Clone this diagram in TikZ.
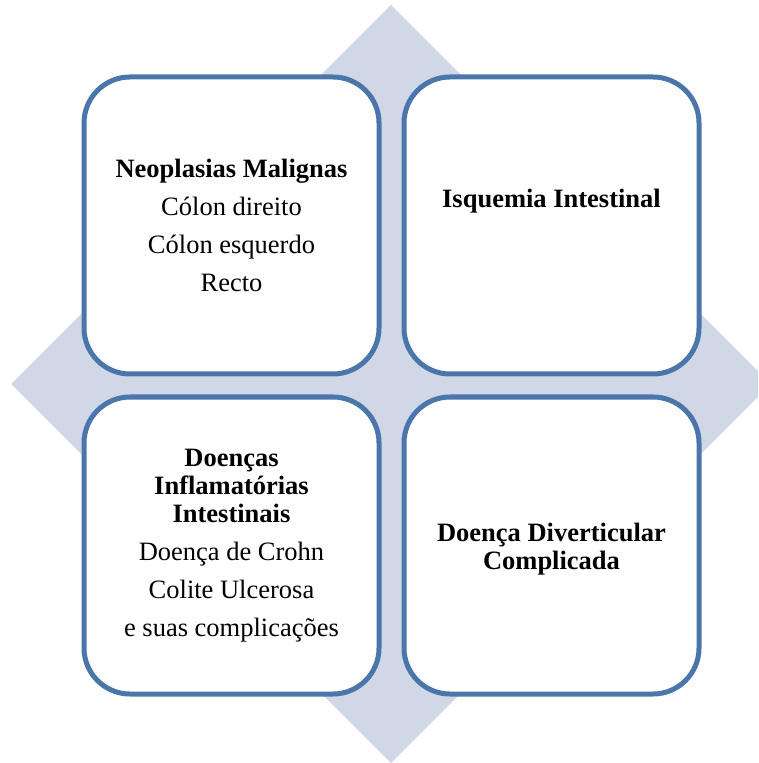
\documentclass[tikz,border=0pt]{standalone}
\usepackage{fontspec}
\setmainfont{Liberation Serif}
\usepackage{tikz}
\usetikzlibrary{positioning}

\definecolor{boxline}{RGB}{74,118,170}
\definecolor{diamondfill}{RGB}{208,216,232}

\begin{document}
\begin{tikzpicture}[
        x=0.5pt, y=-0.5pt,
        quad/.style={rectangle, draw=boxline, line width=2.5pt, rounded corners=23pt, fill=white,
          minimum width=147.5pt, minimum height=148.5pt, align=center,
          font=\fontsize{13.25}{14}\selectfont},
        caption/.style={align=center, font=\fontsize{13.25}{14}\selectfont\bfseries}
      ]

      \useasboundingbox (0,0) rectangle (758,763);
      \clip (0,0) rectangle (758,763);

      % background diamond
      \fill[diamondfill] (391,5) -- (771,384) -- (391,763) -- (11,384) -- cycle;

      \node[quad] (neo) at (231.5,225.5) {\textbf{Neoplasias Malignas}\\[5pt]
        Cólon direito\\[5pt]
        Cólon esquerdo\\[5pt]
        Recto};

      \node[quad] (isq) at (551.5,225.5) {};
      \node[caption] (isqtext) at (551.5,201) {Isquemia Intestinal};

      \node[quad] (dii) at (231.5,545.5) {\textbf{Doenças}\\\textbf{Inflamatórias}\\\textbf{Intestinais}\\[5pt]
        Doença de Crohn\\[5pt]
        Colite Ulcerosa\\[5pt]
        e suas complicações};

      \node[quad] (ddc) at (551.5,545.5) {};
      \node[caption] (ddctext) at (551.5,549) {Doença Diverticular\\Complicada};

    \end{tikzpicture}
\end{document}
